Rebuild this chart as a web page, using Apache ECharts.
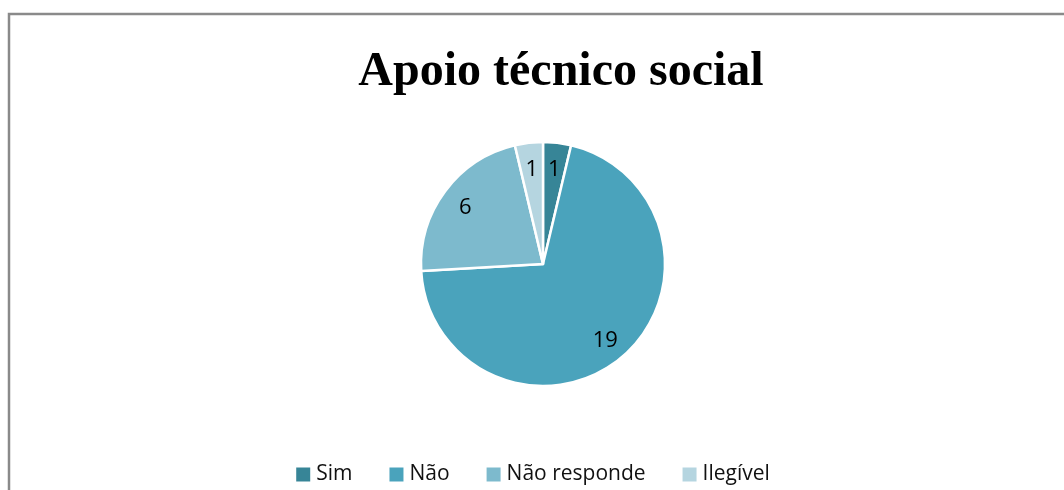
<!DOCTYPE html>
<html>
<head>
    <meta charset="utf-8">
    <script src="https://cdn.jsdelivr.net/npm/echarts@6/dist/echarts.min.js"></script>
</head>
<body style="margin:0">
    <div id="main" style="width: 1064px;height:490px;"></div>
    <script type="text/javascript">
        var categories = ['Sim', 'Não', 'Não responde', 'Ilegível'];
        var values = [1, 19, 6, 1];
        var colors = ['#378597', '#4aa3bc', '#7dbacd', '#b5d5e0'];

        var chartDom = document.getElementById('main');
        var myChart = echarts.init(chartDom);

        var pieData = categories.map(function (name, i) {
            return { name: name, value: values[i], itemStyle: { color: colors[i] } };
        });
        // copia so para pôr os rótulos mais perto da borda
        var labelData = categories.map(function (name, i) {
            return { name: name, value: values[i] };
        });

        var option = {
            graphic: [{
                type: 'rect',
                shape: { x: 9, y: 14, width: 1100, height: 520 },
                style: { fill: 'none', stroke: '#8a8a8a', lineWidth: 2.5 },
                silent: true
            }],
            title: {
                text: 'Apoio técnico social',
                left: 556,
                textAlign: 'center',
                top: 44,
                textStyle: {
                    fontFamily: 'Liberation Serif',
                    fontWeight: 'bold',
                    fontSize: 48,
                    color: '#000'
                }
            },
            legend: {
                data: categories,
                bottom: 0,
                left: 'center',
                icon: 'rect',
                itemWidth: 16,
                itemHeight: 16,
                itemGap: 35,
                textStyle: { fontFamily: 'Open Sans', fontSize: 21, color: '#111' }
            },
            series: [
                {
                    type: 'pie',
                    center: [543, 264],
                    radius: [0, 122],
                    startAngle: 90,
                    clockwise: true,
                    data: pieData,
                    label: { show: false },
                    labelLine: { show: false },
                    itemStyle: { borderColor: '#fff', borderWidth: 2.5 },
                    emphasis: { disabled: true },
                    silent: true
                },
                {
                    type: 'pie',
                    center: [543, 266],
                    radius: [66, 122],
                    startAngle: 90,
                    clockwise: true,
                    data: labelData,
                    itemStyle: { color: 'rgba(0,0,0,0)' },
                    label: {
                        show: true,
                        position: 'inside',
                        formatter: '{c}',
                        fontFamily: 'Open Sans',
                        fontSize: 22,
                        color: '#000'
                    },
                    labelLine: { show: false },
                    emphasis: { disabled: true },
                    silent: true
                }
            ]
        };
        myChart.setOption(option);
    </script>
</body>
</html>
